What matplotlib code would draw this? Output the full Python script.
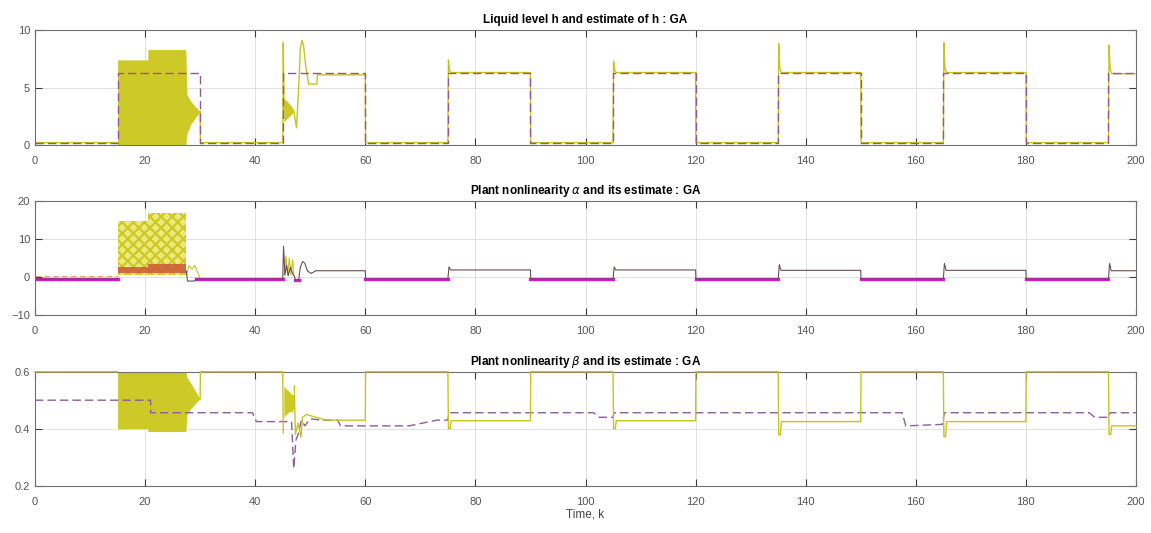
""" GA estimation results: liquid level h, nonlinearities alpha and beta """
import matplotlib
matplotlib.use("Agg")
import matplotlib.pyplot as plt

nan = float("nan")

""" Data """
x_ticks = [0, 20, 40, 60, 80, 100, 120, 140, 160, 180, 200]

# liquid level h (solid) and its estimate (dashed)
h_t = [0, 15, nan, 30, 30.05, 45, 45.1, 45.25, nan, 47.0, 47.5, 47.9, 48.2, 48.5, 48.8, 49.2, 49.6, 49.7,
       51.2, 51.3, 60, 60.05, 75, 75.1, 75.3, 75.6, 90, 90.05, 105, 105.1, 105.3, 105.6, 120, 120.05,
       135, 135.1, 135.3, 135.6, 150, 150.05, 165, 165.1, 165.3, 165.6, 180, 180.05, 195, 195.1, 195.3,
       195.6, 200]
h_v = [0.2, 0.2, nan, 2.9, 0.2, 0.2, 8.9, 3.0, nan, 3.0, 1.5, 5.0, 8.4, 9.1, 8.6, 6.8, 5.6, 5.3,
       5.3, 6.1, 6.1, 0.2, 0.2, 7.4, 6.5, 6.3, 6.3, 0.2, 0.2, 7.3, 6.5, 6.3, 6.3, 0.2,
       0.2, 8.8, 6.6, 6.3, 6.3, 0.2, 0.2, 8.9, 6.6, 6.3, 6.3, 0.2, 0.2, 8.7, 6.6,
       6.2, 6.2]
h_hat_t = [0, 15, 15, 30, 30, 45, 45, 60, 60, 75, 75, 90, 90, 105, 105, 120, 120, 135, 135, 150,
           150, 165, 165, 180, 180, 195, 195, 200]
h_hat_v = [0.2, 0.2, 6.3, 6.3, 0.2, 0.2, 6.3, 6.3, 0.2, 0.2, 6.3, 6.3, 0.2, 0.2, 6.3, 6.3, 0.2, 0.2,
           6.3, 6.3, 0.2, 0.2, 6.3, 6.3, 0.2, 0.2, 6.3, 6.3]
# envelopes of the fast oscillations in h
h_band_t = [15, 20.5, 20.5, 27.4, 27.6, 28.3, 29.2, 30]
h_band_lo = [0, 0, 0, 0, 1.0, 1.8, 2.4, 2.9]
h_band_hi = [7.4, 7.4, 8.3, 8.3, 4.4, 3.8, 3.3, 2.9]
h_band2_t = [45.2, 45.6, 46.2, 46.7, 47.0]
h_band2_lo = [2.0, 2.2, 2.5, 2.7, 3.0]
h_band2_hi = [4.0, 3.9, 3.6, 3.3, 3.0]

# plant nonlinearity alpha (thin), its estimate (magenta)
a_t = [0, 15, nan, 27.5, 27.7, 29.0, 29.3, 45, 45.15, 45.4, 45.7, 46.0, 46.4, 46.8, 47.1, 47.3,
       47.9, 48.2, 48.6, 49.0, 49.5, 50.2, 51, 60, 60.05, 75, 75.2, 75.5, 90, 90.05, 105, 105.2,
       105.5, 120, 120.05, 135, 135.2, 135.5, 150, 150.05, 165, 165.2, 165.5, 180, 180.05, 195,
       195.2, 195.5, 200]
a_v = [-0.6, -0.6, nan, 1.5, -1.1, -1.1, -0.6, -0.6, 8.0, 0.5, 3.0, 0.3, 2.5, 0.8, 0.2, -0.8,
       -0.8, 2.5, 4.0, 3.6, 1.5, 0.9, 1.6, 1.6, -0.6, -0.6, 2.6, 1.8, 1.8, -0.6, -0.6, 2.6,
       1.8, 1.8, -0.6, -0.6, 3.2, 1.7, 1.7, -0.6, -0.6, 3.5, 1.7, 1.7, -0.6, -0.6,
       3.5, 1.6, 1.6]
a_hat_t = [0, 15, nan, 29.2, 45, nan, 47.2, 47.9, nan, 60, 75, nan, 90, 105, nan, 120, 135, nan,
           150, 165, nan, 180, 195]
a_hat_v = [-0.6, -0.6, nan, -0.6, -0.6, nan, -0.8, -0.8, nan, -0.6, -0.6, nan, -0.6, -0.6, nan,
           -0.6, -0.6, nan, -0.6, -0.6, nan, -0.6, -0.6]
a_ref_t = [0, 15]
a_ref_v = [0.3, 0.3]
a_osc_t = [27.5, 28.0, 28.5, 29.0, 29.6, 30.0, nan, 45.3, 45.6, 45.9, 46.2, 46.5, 46.8, 47.0]
a_osc_v = [0.5, 3.0, 2.0, 3.0, 1.0, -0.5, nan, 0.5, 5.5, 0.5, 5.0, 0.5, 4.5, 0.5]
a_band_t = [15, 20.5, 20.5, 27.5]
a_band_lo = [0.5, 0.5, 0.5, 0.5]
a_band_hi = [14.7, 14.7, 16.6, 16.6]
a_red_lo = [0.9, 0.9, 1.0, 1.0]
a_red_hi = [2.6, 2.6, 3.3, 3.3]

# plant nonlinearity beta (solid) and its estimate (dashed)
b_t = [0, 15, nan, 30, 30.05, 45, 45.1, nan, 47.1, 47.3, 47.8, 48.3, 48.6, 49.3, 51, 53, 60, 60.05,
       75, 75.1, 75.4, 75.6, 90, 90.05, 105, 105.1, 105.4, 105.6, 120, 120.05, 135, 135.1, 135.4,
       135.6, 150, 150.05, 165, 165.1, 165.4, 165.6, 180, 180.05, 195, 195.1, 195.4, 195.6, 200]
b_v = [0.6, 0.6, nan, 0.505, 0.6, 0.6, 0.385, nan, 0.55, 0.38, 0.42, 0.37, 0.44, 0.45, 0.44, 0.43, 0.43, 0.6,
       0.6, 0.40, 0.40, 0.428, 0.428, 0.6, 0.6, 0.40, 0.40, 0.428, 0.428, 0.6, 0.6, 0.378, 0.378,
       0.425, 0.425, 0.6, 0.6, 0.372, 0.372, 0.425, 0.425, 0.6, 0.6, 0.38, 0.38, 0.41, 0.41]
b_hat_t = [0, 21, 21, 39.5, 40.2, 46.6, 47.0, 47.4, 47.8, 48.4, 49.0, 50.0, 52, 55, 55.5, 68, 73, 75,
           75.2, 101.5, 102.5, 105, 105.2, 157.5, 158.2, 164.8, 165.2, 191.5, 192.5, 195, 195.3, 200]
b_hat_v = [0.50, 0.50, 0.456, 0.456, 0.425, 0.425, 0.26, 0.36, 0.38, 0.43, 0.41, 0.435, 0.43, 0.43,
           0.41, 0.41, 0.43, 0.43, 0.456, 0.456, 0.44, 0.44, 0.456, 0.456, 0.41, 0.415, 0.456, 0.456,
           0.44, 0.44, 0.456, 0.456]
b_band_t = [15, 20.5, 20.5, 27.4, 27.6, 28.3, 29.2, 30]
b_band_lo = [0.40, 0.40, 0.39, 0.39, 0.45, 0.47, 0.49, 0.505]
b_band_hi = [0.6, 0.6, 0.6, 0.6, 0.58, 0.56, 0.53, 0.505]
b_band2_t = [45.2, 45.6, 46.2, 46.7, 47.0]
b_band2_lo = [0.44, 0.45, 0.46, 0.46, 0.47]
b_band2_hi = [0.55, 0.54, 0.53, 0.52, 0.52]

""" Style """
yellow = "#c8c41e"
band = "#cdca28"
dashed = "#94588a"
magenta = "#d21ed2"
plt.rcParams["font.family"] = ["Liberation Sans", "DejaVu Sans"]
plt.rcParams["hatch.linewidth"] = 1.6

figure = plt.figure(figsize=(11.51, 5.33), dpi=100)
left, width = 35 / 1151, 1101 / 1151
axis_1 = figure.add_axes([left, 1 - 145 / 533, width, 115 / 533])
axis_2 = figure.add_axes([left, 1 - 315 / 533, width, 114.5 / 533])
axis_3 = figure.add_axes([left, 1 - 485.7 / 533, width, 114 / 533])

for ax in (axis_1, axis_2, axis_3):
    ax.set_xlim(0, 200)
    ax.set_xticks(x_ticks)
    ax.grid(True, color="#dcdcdc", linewidth=0.6)
    ax.set_axisbelow(True)
    ax.tick_params(direction="in", top=True, right=True, length=5, width=0.8,
                   color="#3a3a3a", labelsize=8, labelcolor="#555555")
    ax.tick_params(axis="x", pad=8)
    ax.tick_params(axis="y", pad=3.5)
    for s in ax.spines.values():
        s.set_color("#707070")
        s.set_linewidth(0.8)

# h
axis_1.fill_between(h_band_t, h_band_lo, h_band_hi, color=band, linewidth=0)
axis_1.fill_between(h_band2_t, h_band2_lo, h_band2_hi, color=band, linewidth=0)
axis_1.plot(h_t, h_v, color=yellow, linewidth=1.0)
axis_1.plot(h_hat_t, h_hat_v, color=dashed, linewidth=1.0, linestyle=(0, (6, 3)))
axis_1.set_ylim(0, 10)
axis_1.set_yticks([0, 5, 10])
axis_1.set_title("Liquid level h and estimate of h : GA", fontsize=8.5, fontweight="bold", pad=5)

# alpha
axis_2.fill_between(a_band_t, a_band_lo, a_band_hi, facecolor="#ebe87c", edgecolor="#cdc922",
                    hatch="xxx", linewidth=0)
axis_2.fill_between(a_band_t, a_red_lo, a_red_hi, color="#cc5838", alpha=0.85, linewidth=0)
axis_2.plot(a_ref_t, a_ref_v, color="#e8a070", linewidth=0.8, linestyle=(0, (5, 3)))
axis_2.plot(a_osc_t, a_osc_v, color=yellow, linewidth=0.8)
axis_2.plot(a_hat_t, a_hat_v, color=magenta, linewidth=2.4)
axis_2.plot(a_t, a_v, color="#6a5050", linewidth=0.8)
axis_2.set_ylim(-10, 20)
axis_2.set_yticks([-10, 0, 10, 20])
axis_2.set_title(r"Plant nonlinearity $\alpha$ and its estimate : GA", fontsize=8.5,
                 fontweight="bold", pad=5)

# beta
axis_3.fill_between(b_band_t, b_band_lo, b_band_hi, color=band, linewidth=0)
axis_3.fill_between(b_band2_t, b_band2_lo, b_band2_hi, color=band, linewidth=0)
axis_3.plot(b_t, b_v, color=yellow, linewidth=1.0, clip_on=False, zorder=4)
axis_3.plot(b_hat_t, b_hat_v, color="#8c5c9e", linewidth=1.0, linestyle=(0, (6, 3)))
axis_3.set_ylim(0.2, 0.6)
axis_3.set_yticks([0.2, 0.4, 0.6])
axis_3.set_title(r"Plant nonlinearity $\beta$ and its estimate : GA", fontsize=8.5,
                 fontweight="bold", pad=5)
axis_3.set_xlabel("Time, k", fontsize=8.5, color="#444444", labelpad=1)

figure.savefig("out.png", dpi=100)
